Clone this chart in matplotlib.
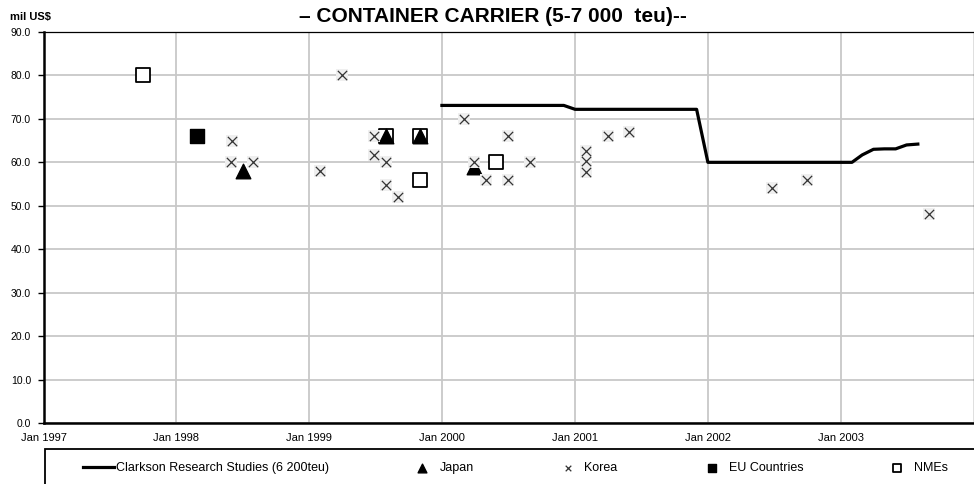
import numpy as np
import pandas as pd
import matplotlib
matplotlib.use("Agg")
import matplotlib.pyplot as plt
from matplotlib.patches import Rectangle

plt.rcParams['font.family'] = ['Liberation Sans', 'DejaVu Sans']

# Clarkson newbuilding price, 6 200 teu (monthly, mil US$)
clarkson_dates = pd.date_range("2000-01-01", "2003-08-01", freq="MS")
clarkson_vals = ([73.1] * 12 + [72.2] * 12 + [60.0] * 12 +
                 [60.0, 60.0, 61.7, 63.0, 63.1, 63.1, 64.0, 64.2])

# individual contracts
japan_dates = ["1998-07-04", "1999-07-30", "1999-11-03", "2000-03-29"]
japan_vals = [58.0, 66.0, 66.0, 59.0]

korea_dates = ["1998-06-02", "1998-06-01", "1998-08-01", "1999-01-30", "1999-04-02",
               "1999-06-27", "1999-06-27", "1999-08-01", "1999-08-01", "1999-09-02",
               "2000-03-02", "2000-03-29", "2000-04-30", "2000-07-01", "2000-07-01",
               "2000-08-31", "2001-01-30", "2001-01-30", "2001-01-30", "2001-04-01",
               "2001-05-30", "2002-06-27", "2002-10-01", "2003-08-31"]
korea_vals = [65.0, 60.0, 60.0, 58.0, 80.0,
              66.0, 61.6, 60.0, 54.8, 52.0,
              70.0, 60.0, 56.0, 66.0, 56.0,
              60.0, 62.7, 60.2, 57.7, 66.0,
              67.0, 54.0, 56.0, 48.0]

eu_dates = ["1998-02-28"]
eu_vals = [66.0]

nme_dates = ["1997-10-01", "1999-07-30", "1999-11-03", "1999-11-03", "2000-05-30"]
nme_vals = [80.0, 66.0, 66.0, 56.0, 60.0]

yticks = np.arange(0, 100, 10)
xyears = list(range(1997, 2004))

fig = plt.figure(figsize=(9.74, 4.84), dpi=100)
ax = fig.add_axes([43.5 / 974, 61 / 484, 930 / 974, 391 / 484])

kd = pd.to_datetime(korea_dates)
ax.plot(clarkson_dates, clarkson_vals, color='black', lw=2.3, zorder=3,
        label='Clarkson Research Studies (6 200teu)')
ax.scatter(pd.to_datetime(nme_dates), nme_vals, marker='s', s=110, facecolor='white',
           edgecolor='black', linewidths=1.3, zorder=4, label='NMEs')
ax.scatter(pd.to_datetime(japan_dates), japan_vals, marker='^', s=110, color='black',
           zorder=5, label='Japan')
# faint grey boxes behind the crosses, as in the original rendering
ax.scatter(kd, korea_vals, marker='s', s=85, color='#efefef', zorder=5.5, linewidths=0)
ax.scatter(kd, korea_vals, marker='x', s=45, color='#333333', linewidths=0.9,
           zorder=6, label='Korea')
ax.scatter(pd.to_datetime(eu_dates), eu_vals, marker='s', s=110, color='black',
           zorder=5, label='EU Countries')

ax.set_xlim(pd.Timestamp("1997-01-01"), pd.Timestamp("2004-01-01"))
ax.set_ylim(0, 90)
ax.set_yticks(yticks)
ax.set_yticklabels([f"{v:.1f}" for v in yticks], fontsize=7.5)
xt = [pd.Timestamp(f"{y}-01-01") for y in xyears]
ax.set_xticks(xt)
ax.set_xticklabels([f"Jan {y}" for y in xyears], fontsize=8)
ax.tick_params(axis='y', length=4, width=1, pad=5)
ax.tick_params(axis='x', length=0, pad=7)
ax.grid(True, color='#c8c8c8', lw=1.3)
ax.set_axisbelow(True)
for s in ['left', 'bottom']:
    ax.spines[s].set_linewidth(1.8)
for s in ['top', 'right']:
    ax.spines[s].set_linewidth(0.9)

fig.text(493 / 974, 1 - 17 / 484, "– CONTAINER CARRIER (5-7 000  teu)--",
         ha='center', va='center', fontsize=15, fontweight='bold')
fig.text(10 / 974, 1 - 17 / 484, "mil US$", ha='left', va='center',
         fontsize=8, fontweight='bold')

# legend box below the plot
fig.patches.append(Rectangle((45 / 974, -0.2), 1.0, 0.2 + 35 / 484,
                             transform=fig.transFigure, fill=False,
                             edgecolor='black', lw=1.3, clip_on=False))

h, l = ax.get_legend_handles_labels()
order = [l.index(n) for n in ['Clarkson Research Studies (6 200teu)', 'Japan',
                               'Korea', 'EU Countries', 'NMEs']]
fig.legend([h[i] for i in order], [l[i] for i in order], ncol=5, mode='expand',
           loc='center', bbox_to_anchor=(83 / 974, 8 / 484, 865 / 974, 16 / 484),
           frameon=False, fontsize=9, handlelength=2.5, handletextpad=0.1,
           borderpad=0, borderaxespad=0, markerscale=0.6)

fig.savefig("out.png", dpi=100)
